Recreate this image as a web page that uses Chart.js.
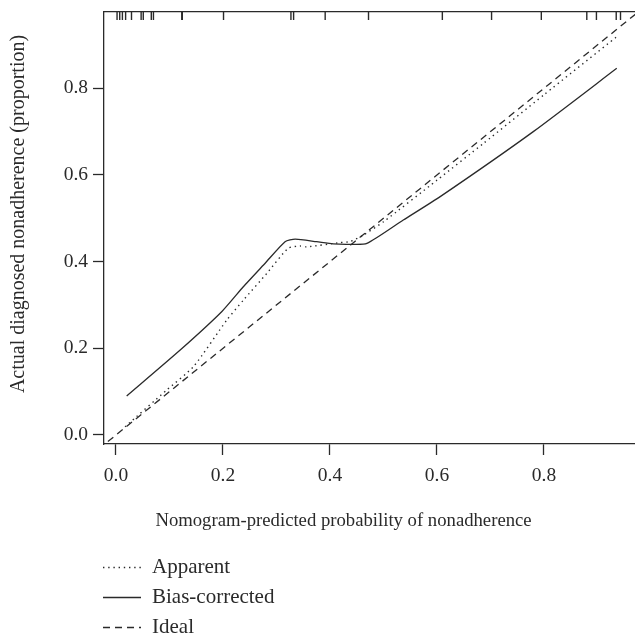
<!DOCTYPE html>
<html><head><meta charset="utf-8">
<script src="https://cdn.jsdelivr.net/npm/chart.js@4/dist/chart.umd.min.js"></script>
<style>html,body{margin:0;padding:0;background:#fff;}#wrap{width:635px;height:635px;}</style>
</head><body><div id="wrap"><canvas id="c" width="635" height="635"></canvas></div>
<script>
// ---- data ----
const apparentX = [0.017, 0.095, 0.145, 0.207, 0.238, 0.282, 0.322, 0.344, 0.356, 0.419, 0.437, 0.462, 0.500, 0.600, 0.687, 0.800, 0.936];
const apparentY = [0.019, 0.104, 0.158, 0.265, 0.311, 0.373, 0.431, 0.436, 0.434, 0.444, 0.446, 0.461, 0.492, 0.588, 0.673, 0.785, 0.919];
const biasX = [0.020, 0.120, 0.198, 0.238, 0.280, 0.316, 0.335, 0.375, 0.406, 0.437, 0.469, 0.537, 0.606, 0.780, 0.936];
const biasY = [0.090, 0.196, 0.285, 0.342, 0.398, 0.446, 0.452, 0.446, 0.441, 0.440, 0.442, 0.496, 0.550, 0.700, 0.846];
const idealX = [-0.05, 1.05];
const idealY = [-0.05, 1.05];
const rugX = [0.002, 0.007, 0.012, 0.018, 0.029, 0.047, 0.051, 0.066, 0.070, 0.123, 0.124, 0.201, 0.327, 0.332, 0.391, 0.472, 0.610, 0.702, 0.795, 0.880, 0.898, 0.935, 0.943];
const rugLevel = 0.9668;
const xTicks = [0.0, 0.2, 0.4, 0.6, 0.8];
const yTicks = [0.0, 0.2, 0.4, 0.6, 0.8];
const xRange = [-0.0224, 0.9701];
const yRange = [-0.0208, 0.976];
const xTitle = 'Nomogram-predicted probability of nonadherence';
const yTitle = 'Actual diagnosed nonadherence (proportion)';
const seriesNames = ['Apparent', 'Bias-corrected', 'Ideal'];

const INK = '#2a2a2a';
const FONT = '"Liberation Serif", "DejaVu Serif", serif';
const pts = (xs, ys) => xs.map((x, i) => ({x: x, y: ys[i]}));

const legendPlugin = {
  id: 'customText',
  afterDraw(chart) {
    const ctx = chart.ctx;
    ctx.save();
    ctx.fillStyle = INK;
    ctx.font = '18.7px ' + FONT;
    ctx.textBaseline = 'middle';
    ctx.textAlign = 'center';
    ctx.fillText(xTitle, 343.5, 521);
    ctx.save();
    ctx.font = '20px ' + FONT;
    ctx.translate(19, 214);
    ctx.rotate(-Math.PI / 2);
    ctx.fillText(yTitle, 0, 0);
    ctx.restore();
    ctx.font = '21px ' + FONT;
    const rows = [567, 597, 627];
    chart.data.datasets.filter(d => d.inLegend).forEach((d, i) => {
      const y = rows[i];
      ctx.strokeStyle = d.borderColor;
      ctx.lineWidth = d.borderWidth;
      ctx.setLineDash(d.borderDash || []);
      ctx.beginPath();
      ctx.moveTo(103, y + 0.5);
      ctx.lineTo(141, y + 0.5);
      ctx.stroke();
      ctx.setLineDash([]);
      ctx.textAlign = 'left';
      ctx.fillText(d.label, 152, y);
    });
    ctx.restore();
  }
};

const zeroPadH = s => { s.paddingLeft = 0; s.paddingRight = 0; };
const zeroPadV = s => { s.paddingTop = 0; s.paddingBottom = 0; };

new Chart(document.getElementById('c'), {
  type: 'scatter',
  data: {
    datasets: [
      {label: seriesNames[0], inLegend: true, data: pts(apparentX, apparentY), showLine: true, borderColor: INK, borderWidth: 1.4, borderDash: [1.4, 3.8], pointRadius: 0, tension: 0.2, fill: false},
      {label: seriesNames[1], inLegend: true, data: pts(biasX, biasY), showLine: true, borderColor: INK, borderWidth: 1.3, pointRadius: 0, tension: 0.2, fill: false},
      {label: seriesNames[2], inLegend: true, data: pts(idealX, idealY), showLine: true, borderColor: INK, borderWidth: 1.3, borderDash: [7, 5], pointRadius: 0, tension: 0, fill: false},
      {label: 'rug', inLegend: false, data: rugX.map(x => ({x: x, y: rugLevel})), showLine: false, pointStyle: 'line', rotation: 90, pointRadius: 4, borderColor: INK, borderWidth: 1.4, pointHoverRadius: 0}
    ]
  },
  options: {
    responsive: false,
    devicePixelRatio: 1,
    animation: false,
    events: [],
    layout: {autoPadding: false, padding: {left: 0, right: 0, top: 0, bottom: 101}},
    plugins: {legend: {display: false}, tooltip: {enabled: false}},
    scales: {
      x: {
        type: 'linear', position: 'bottom', min: xRange[0], max: xRange[1],
        afterBuildTicks: s => { s.ticks = xTicks.map(v => ({value: v})); },
        afterFit: s => { s.height = 90; zeroPadH(s); },
        ticks: {color: INK, font: {family: FONT, size: 19.5}, padding: 9, maxRotation: 0, autoSkip: false, callback: v => Number(v).toFixed(1)},
        grid: {display: true, drawOnChartArea: false, drawTicks: true, tickLength: 11, tickColor: INK, tickWidth: 1.3},
        border: {display: true, color: INK, width: 1.3}
      },
      x2: {
        type: 'linear', position: 'top', min: xRange[0], max: xRange[1],
        afterFit: s => { s.height = 12; zeroPadH(s); },
        ticks: {display: false},
        grid: {display: true, drawOnChartArea: false, drawTicks: false},
        border: {display: true, color: INK, width: 1.3}
      },
      y: {
        type: 'linear', position: 'left', min: yRange[0], max: yRange[1],
        afterBuildTicks: s => { s.ticks = yTicks.map(v => ({value: v})); },
        afterFit: s => { s.width = 104; zeroPadV(s); },
        ticks: {color: INK, font: {family: FONT, size: 19.5}, padding: 5, autoSkip: false, callback: v => Number(v).toFixed(1)},
        grid: {display: true, drawOnChartArea: false, drawTicks: true, tickLength: 11, tickColor: INK, tickWidth: 1.3},
        border: {display: true, color: INK, width: 1.3}
      }
    }
  },
  plugins: [legendPlugin]
});
</script>
</body></html>
